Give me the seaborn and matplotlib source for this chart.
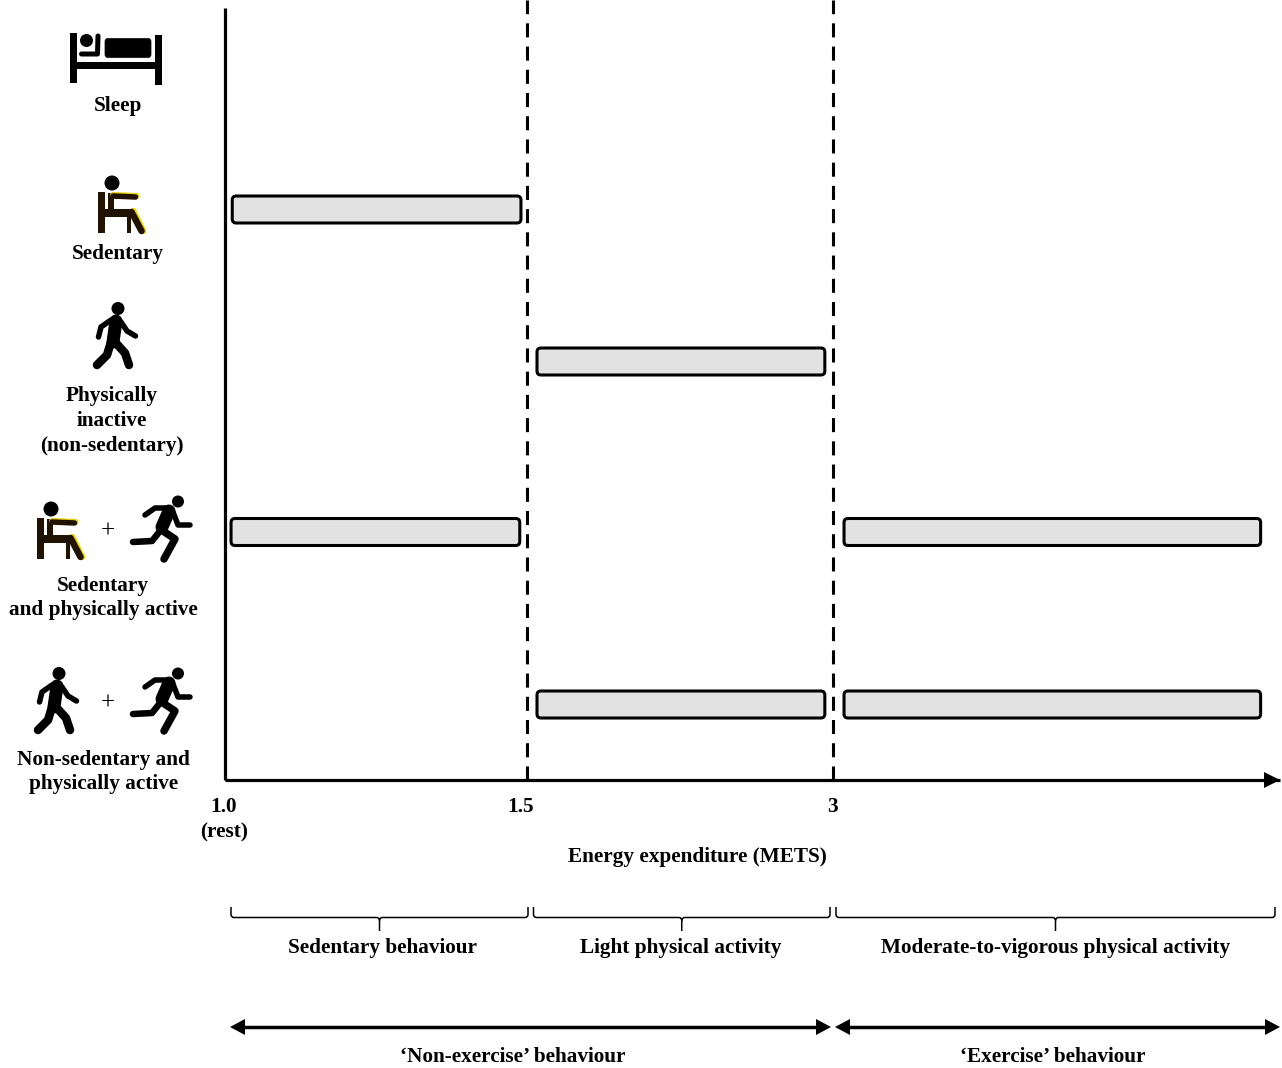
import matplotlib

matplotlib.use("Agg")

import matplotlib.pyplot as plt
import numpy as np
import seaborn as sns
from matplotlib.patches import Circle, FancyBboxPatch, PathPatch, Rectangle
from matplotlib.path import Path
from matplotlib.transforms import IdentityTransform, ScaledTranslation
from pandas import DataFrame

# the data: which behaviour occupies which MET range
BEHAVIOURS = [
    "Sleep",
    "Sedentary",
    "Physically inactive",
    "Sedentary and physically active",
    "Non-sedentary and physically active",
]
SEGMENT_BEHAVIOUR = [
    "Sedentary",
    "Physically inactive",
    "Sedentary and physically active",
    "Sedentary and physically active",
    "Non-sedentary and physically active",
    "Non-sedentary and physically active",
]
SEGMENT_START = [1.012, 1.549, 1.01, 3.074, 1.549, 3.074]
SEGMENT_END = [1.49, 2.96, 1.488, 5.87, 2.96, 5.87]

MET_TICKS = [1.0, 1.5, 3.0]
MET_TICK_LABELS = ["1.0\n(rest)", "1.5", "3"]
ZONE_NAMES = [
    "Sedentary behaviour",
    "Light physical activity",
    "Moderate-to-vigorous physical activity",
]
GROUP_NAMES = ["\u2018Non-exercise\u2019 behaviour", "\u2018Exercise\u2019 behaviour"]

# layout, in pixels of the 1282x1068 picture
ROW_Y = {
    "Sleep": 58,
    "Sedentary": 209.5,
    "Physically inactive": 361.5,
    "Sedentary and physically active": 532,
    "Non-sedentary and physically active": 704.5,
}
AXIS_LEFT, AXIS_RIGHT, AXIS_TOP, AXIS_BOTTOM = 225, 1280, 8, 780
W, H = 1282, 1068
SERIF = "Liberation Serif"
FS = 15.3


def met_forward(x):
    return np.interp(x, [1.0, 1.5, 3.0, 6.0], [0.0, 302.0, 608.0, 1055.0])


def met_inverse(x):
    return np.interp(x, [0.0, 302.0, 608.0, 1055.0], [1.0, 1.5, 3.0, 6.0])


def stroke(ax, pts, lw, dx=0, dy=0, color="black", cap="round"):
    xs = [p[0] + dx for p in pts]
    ys = [p[1] + dy for p in pts]
    # lw given in pixels
    ax.plot(
        xs, ys, color=color, lw=lw * 0.72,
        solid_capstyle=cap, solid_joinstyle="round",
    )


def draw_bed(ax):
    ax.add_patch(Rectangle((70, 33), 7, 50, color="black", lw=0))
    ax.add_patch(Rectangle((155, 35), 7, 50, color="black", lw=0))
    ax.add_patch(Rectangle((77, 62), 78, 7, color="black", lw=0))
    ax.add_patch(
        FancyBboxPatch(
            (105, 38.5), 46, 19, boxstyle="round,pad=0,rounding_size=3",
            fc="black", ec="black", lw=0.5,
        )
    )
    ax.add_patch(Circle((86.5, 40.5), 6.5, color="black", lw=0))
    stroke(ax, [(81.5, 54), (97.5, 54), (98, 36)], 5)


def draw_sitter(ax, dx=0, dy=0):
    brown = "#211200"
    stroke(ax, [(133, 211), (143, 231)], 6.5, dx, dy, "#e8d000")
    stroke(ax, [(113, 195), (136.5, 196)], 6, dx, dy, "#e8d000")
    ax.add_patch(Circle((112 + dx, 183 + dy), 7.5, color="black", lw=0))
    ax.add_patch(Rectangle((98 + dx, 192 + dy), 7, 41, color=brown, lw=0))
    ax.add_patch(Rectangle((108 + dx, 193 + dy), 6, 18, color=brown, lw=0))
    stroke(ax, [(113, 196), (135.5, 197)], 5.5, dx, dy, brown)
    ax.add_patch(Rectangle((105 + dx, 208.5 + dy), 27, 7, color=brown, lw=0))
    ax.add_patch(Rectangle((98 + dx, 212 + dy), 33, 5, color=brown, lw=0))
    ax.add_patch(Rectangle((127 + dx, 214 + dy), 4, 19, color=brown, lw=0))
    stroke(ax, [(131.5, 212), (141.5, 231)], 6.5, dx, dy, brown)


def draw_walker(ax, dx=0, dy=0):
    ax.add_patch(Circle((118 + dx, 308.5 + dy), 6.5, color="black", lw=0))
    stroke(ax, [(116, 321), (113, 342)], 13, dx, dy)
    stroke(ax, [(111, 320), (101, 327), (98.5, 337)], 5.5, dx, dy)
    stroke(ax, [(121, 322), (127, 331), (135.5, 336)], 5.5, dx, dy)
    stroke(ax, [(111, 342), (107, 355), (97, 365)], 8.5, dx, dy)
    stroke(ax, [(115, 342), (125, 353), (129, 365)], 8.5, dx, dy)


def draw_runner(ax, dx=0, dy=0):
    ax.add_patch(Circle((178 + dx, 673.5 + dy), 6, color="black", lw=0))
    stroke(ax, [(169, 683), (162, 699)], 13, dx, dy)
    stroke(ax, [(145, 687), (155, 680), (168, 680)], 5.5, dx, dy)
    stroke(ax, [(173, 684), (178, 697), (190, 697)], 5.5, dx, dy)
    stroke(ax, [(160, 703), (152, 713), (133, 714)], 6.5, dx, dy)
    stroke(ax, [(160, 701), (175, 711), (164, 731)], 7.5, dx, dy)


def draw_bracket(ax, x0, x1, top, mid, tip):
    centre = (x0 + x1) / 2
    r = 3
    verts = [
        (x0, top), (x0, mid - r), (x0, mid), (x0 + r, mid),
        (centre - r, mid), (centre, mid), (centre, mid + r), (centre, tip),
        (centre, mid + r), (centre, mid), (centre + r, mid),
        (x1 - r, mid), (x1, mid), (x1, mid - r), (x1, top),
    ]
    codes = [
        Path.MOVETO, Path.LINETO, Path.CURVE3, Path.CURVE3,
        Path.LINETO, Path.CURVE3, Path.CURVE3, Path.LINETO,
        Path.MOVETO, Path.CURVE3, Path.CURVE3,
        Path.LINETO, Path.CURVE3, Path.CURVE3, Path.LINETO,
    ]
    ax.add_patch(PathPatch(Path(verts, codes), fc="none", ec="black", lw=1.1))


def draw_double_arrow(ax, x0, x1, y):
    ax.plot([x0 + 10, x1 - 10], [y, y], color="black", lw=2.5, solid_capstyle="butt")
    for tip, base in ((x0, x0 + 15), (x1, x1 - 15)):
        ax.fill([tip, base, base], [y, y - 8, y + 8], color="black", lw=0)


def main():
    sns.set_theme(style="white")
    plt.rcParams["font.family"] = [SERIF, "DejaVu Serif"]
    plt.rcParams["font.weight"] = "bold"
    plt.rcParams["text.color"] = "black"
    plt.rcParams["axes.labelcolor"] = "black"
    plt.rcParams["xtick.color"] = "black"

    fig = plt.figure(figsize=(W / 100, H / 100), dpi=100, facecolor="white")
    graph = fig.add_axes(
        [
            AXIS_LEFT / W,
            1 - AXIS_BOTTOM / H,
            (AXIS_RIGHT - AXIS_LEFT) / W,
            (AXIS_BOTTOM - AXIS_TOP) / H,
        ]
    )

    df = DataFrame(
        {"behaviour": SEGMENT_BEHAVIOUR, "start": SEGMENT_START, "end": SEGMENT_END}
    )
    df["row"] = df["behaviour"].map(ROW_Y)
    df["length"] = df["end"] - df["start"]

    for _, seg in df.iterrows():
        sns.barplot(
            x=[seg["length"]],
            y=[seg["row"]],
            left=seg["start"],
            orient="y",
            native_scale=True,
            width=27,
            errorbar=None,
            color="#e2e2e2",
            saturation=1,
            ax=graph,
        )

    graph.set_xscale("function", functions=(met_forward, met_inverse))
    graph.set_xlim(1.0, 6.0)
    graph.set_ylim(AXIS_BOTTOM, AXIS_TOP)
    graph.set_facecolor("none")
    graph.set_ylabel("")
    graph.set_yticks([])
    graph.set_xticks(MET_TICKS, labels=MET_TICK_LABELS)
    graph.minorticks_off()
    graph.tick_params(axis="x", length=0, pad=12, labelsize=FS)
    for label, shift in zip(graph.get_xticklabels(), [-1, -6, -1]):
        label.set_transform(
            label.get_transform()
            + ScaledTranslation(shift / 100, 0, fig.dpi_scale_trans)
        )
        label.set_fontweight("bold")
        label.set_linespacing(1.4)
    graph.set_xlabel("Energy expenditure (METS)", fontsize=FS, fontweight="bold")
    graph.xaxis.set_label_coords((697 - AXIS_LEFT) / (AXIS_RIGHT - AXIS_LEFT), -0.087)

    for side in ("top", "right"):
        graph.spines[side].set_visible(False)
    for side in ("left", "bottom"):
        graph.spines[side].set_linewidth(2.3)
        graph.spines[side].set_color("black")
        graph.spines[side].set_capstyle("butt")

    for met in MET_TICKS[1:]:
        graph.plot(
            [met, met], [AXIS_BOTTOM, 0],
            color="black", lw=2.2, dashes=(4.6, 3), clip_on=False, zorder=1,
        )

    # seaborn bars have square corners, swap them for rounded boxes at the same place
    fig.canvas.draw()
    for bar in list(graph.patches):
        box = bar.get_window_extent()
        bar.set_visible(False)
        fig.add_artist(
            FancyBboxPatch(
                (box.x0 + 3, box.y0 + 3),
                box.width - 6,
                box.height - 6,
                boxstyle="round,pad=3,rounding_size=4",
                fc="#e2e2e2",
                ec="black",
                lw=2.2,
                transform=IdentityTransform(),
            )
        )

    # overlay in picture pixels for the icons and annotation
    over = fig.add_axes([0, 0, 1, 1], facecolor="none")
    over.set_xlim(0, W)
    over.set_ylim(H, 0)
    over.axis("off")

    # x axis arrow head
    over.fill([1280, 1264, 1264], [780, 772, 788], color="black", lw=0)

    draw_bed(over)
    draw_sitter(over)
    draw_walker(over)
    draw_sitter(over, -61, 326)
    draw_runner(over, 0, -172)
    draw_walker(over, -59, 365)
    draw_runner(over)

    for y in (532, 704):
        over.text(107.5, y, "+", ha="center", va="center", fontsize=18, fontweight="normal")

    row_labels = [
        (118, 105.5, "Sleep"),
        (117.5, 253.5, "Sedentary"),
        (112, 395.5, "Physically"),
        (112, 420.5, "inactive"),
        (112, 445.5, "(non-sedentary)"),
        (103, 585.5, "Sedentary"),
        (103, 609.5, "and physically active"),
        (103, 759.5, "Non-sedentary and"),
        (103.5, 783.5, "physically active"),
    ]
    for x, y, text in row_labels:
        over.text(x, y, text, ha="center", va="center", fontsize=FS, fontweight="bold")

    for (x0, x1), centre, name in zip(
        [(231, 528), (533.5, 830), (836, 1275)], [382.5, 680.5, 1055.5], ZONE_NAMES
    ):
        draw_bracket(over, x0, x1, 907, 917.5, 931)
        over.text(centre, 947.5, name, ha="center", va="center", fontsize=FS, fontweight="bold")

    for (x0, x1), centre, name in zip(
        [(230, 831), (835, 1280)], [513, 1053], GROUP_NAMES
    ):
        draw_double_arrow(over, x0, x1, 1027)
        over.text(centre, 1056.5, name, ha="center", va="center", fontsize=FS, fontweight="bold")

    fig.savefig("out.png", dpi=100, facecolor="white")


if __name__ == "__main__":
    main()
